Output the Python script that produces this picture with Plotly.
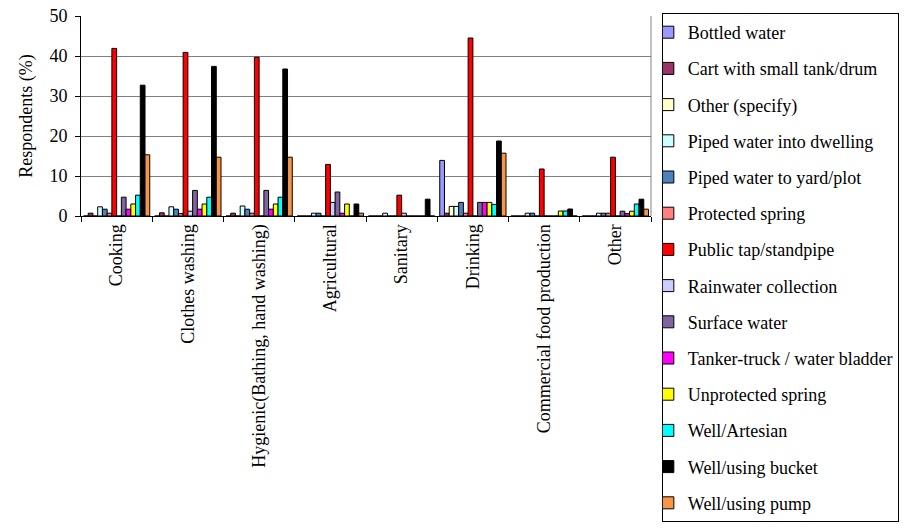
import plotly.graph_objects as go

categories = ["Cooking", "Clothes washing", "Hygienic(Bathing, hand washing)", "Agricultural",
              "Sanitary", "Drinking", "Commercial food production", "Other"]

series_names = ["Bottled water", "Cart with small tank/drum", "Other (specify)",
                "Piped water into dwelling", "Piped water to yard/plot", "Protected spring",
                "Public tap/standpipe", "Rainwater collection", "Surface water",
                "Tanker-truck / water bladder", "Unprotected spring", "Well/Artesian",
                "Well/using bucket", "Well/using pump"]

bottled_water = [0, 0, 0, 0, 0, 13.9, 0, 0]
cart_tank = [0.7, 0.8, 0.7, 0, 0, 0.7, 0, 0]
other_specify = [0, 0, 0, 0, 0, 2.4, 0, 0]
piped_dwelling = [2.3, 2.3, 2.5, 0.7, 0.7, 2.4, 0.7, 0.7]
piped_yard = [1.7, 1.7, 1.7, 0.7, 0, 3.4, 0.7, 0.7]
protected_spring = [0.7, 0.6, 0.7, 0, 0, 0.7, 0, 0.7]
public_tap = [41.9, 40.9, 39.7, 12.9, 5.2, 44.5, 11.75, 14.7]
rainwater = [0, 1.2, 0, 3.4, 0.7, 0, 0, 0]
surface_water = [4.7, 6.4, 6.4, 6.0, 0, 3.4, 0, 1.2]
tanker_truck = [1.7, 1.7, 1.7, 0.7, 0, 3.4, 0, 0.6]
unprotected_spring = [3.0, 3.0, 3.0, 3.0, 0, 3.4, 1.25, 1.2]
well_artesian = [5.2, 4.7, 4.7, 0, 0, 2.9, 1.25, 3.0]
well_bucket = [32.7, 37.4, 36.75, 3.0, 4.2, 18.75, 1.75, 4.2]
well_pump = [15.3, 14.7, 14.7, 0.7, 0, 15.7, 0, 1.7]

values = [bottled_water, cart_tank, other_specify, piped_dwelling, piped_yard,
          protected_spring, public_tap, rainwater, surface_water, tanker_truck,
          unprotected_spring, well_artesian, well_bucket, well_pump]

colors = ["#9999FF", "#993366", "#FFFFCC", "#CCFFFF", "#4F81BD", "#FF8080", "#FF0000",
          "#CCCCFF", "#8064A2", "#FF00FF", "#FFFF00", "#00FFFF", "#000000", "#F79646"]

font_family = "Liberation Serif"

fig = go.Figure()
for i, (name, vals, col) in enumerate(zip(series_names, values, colors)):
    fig.add_trace(go.Bar(
        x=categories, y=vals, name=name, legendgroup=str(i),
        marker=dict(color=col, line=dict(color="black", width=1)),
    ))

fig.update_layout(
    barmode="group",
    bargap=0.07,
    bargroupgap=0,
    width=904, height=531,
    margin=dict(l=81, r=253, t=16, b=315, autoexpand=False),
    paper_bgcolor="white",
    plot_bgcolor="white",
    font=dict(family=font_family, size=18, color="black"),
    legend=dict(
        x=1.019, y=1.015, xanchor="left", yanchor="top",
        bordercolor="black", borderwidth=1, bgcolor="white",
        font=dict(family=font_family, size=18, color="black"),
        traceorder="grouped", tracegroupgap=9.8, itemwidth=30,
        indentation=-15, maxheight=525,
    ),
    yaxis=dict(
        range=[0, 50], dtick=10, showgrid=True, gridcolor="#808080", gridwidth=1,
        showline=True, linecolor="black", linewidth=1, ticks="outside", ticklen=5,
        tickcolor="black", zeroline=False, ticklabelstandoff=4,
        title=dict(text="Respondents (%)", font=dict(family=font_family, size=18), standoff=12),
        tickfont=dict(family=font_family, size=18),
    ),
    xaxis=dict(
        showline=True, linecolor="black", linewidth=1, ticks="outside", ticklen=5,
        tickcolor="black", tickson="boundaries", tickangle=-90,
        tickfont=dict(family=font_family, size=18),
        mirror=False,
    ),
)

# right border of plot area (gray)
fig.add_shape(type="line", xref="paper", yref="paper", x0=1, x1=1, y0=0, y1=1,
              line=dict(color="#808080", width=1))

fig.write_html("out.html",
               config={"displayModeBar": False},
               post_script="document.body.style.margin='0';document.body.style.overflow='hidden';")
